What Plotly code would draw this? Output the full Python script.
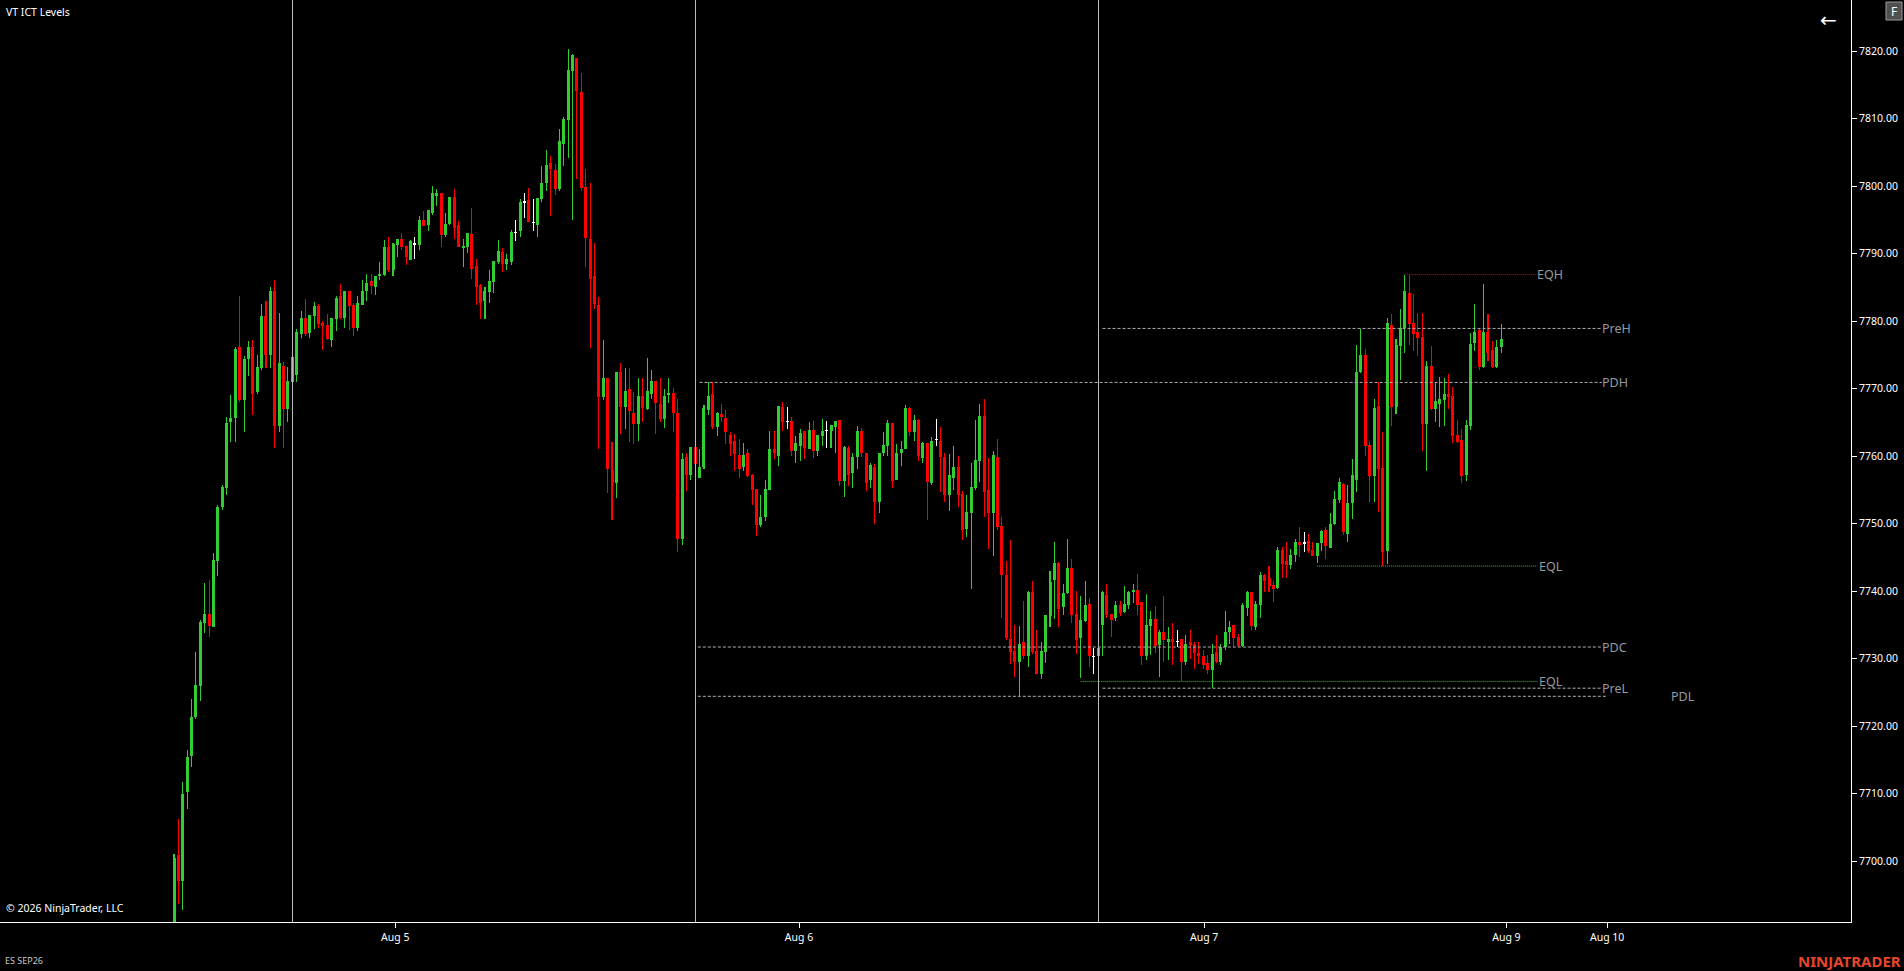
import numpy as np
import plotly.graph_objects as go

# ---------------- DATA (15-minute ES SEP26 bars, index 0..303) ----------------
opens = [
    7691.0, 7700.9, 7697.1, 7710.2, 7715.6, 7721.4, 7726.0, 7735.2, 7736.6, 7734.6,
    7744.5, 7752.4, 7755.3, 7765.1, 7765.6, 7776.1, 7768.3, 7774.3, 7776.1, 7769.5,
    7773.0, 7780.8, 7775.0, 7784.4, 7764.4, 7773.3, 7766.9, 7771.0, 7772.0, 7778.1,
    7780.4, 7778.2, 7780.7, 7782.2, 7779.7, 7779.4, 7777.2, 7780.3, 7783.7, 7780.4,
    7784.4, 7782.4, 7779.0, 7782.3, 7784.5, 7785.9, 7785.1, 7786.6, 7786.8, 7790.9,
    7787.6, 7791.3, 7792.1, 7791.1, 7789.1, 7791.4, 7791.3, 7795.0, 7794.2, 7796.0,
    7798.5, 7799.0, 7792.7, 7794.4, 7798.4, 7794.2, 7790.9, 7790.9, 7792.9, 7788.2,
    7785.3, 7782.9, 7784.3, 7785.8, 7788.8, 7790.2, 7788.4, 7788.7, 7793.1, 7793.3,
    7797.6, 7797.9, 7794.6, 7794.2, 7798.1, 7800.5, 7803.4, 7802.4, 7799.5, 7806.2,
    7809.8, 7817.0, 7818.9, 7813.9, 7799.9, 7792.1, 7786.7, 7782.4, 7768.8, 7771.6,
    7757.9, 7756.0, 7772.4, 7767.3, 7769.9, 7766.4, 7764.7, 7768.9, 7767.0, 7769.2,
    7771.1, 7767.7, 7765.5, 7769.0, 7769.3, 7766.3, 7747.7, 7759.8, 7757.2, 7761.3,
    7756.8, 7758.3, 7766.8, 7769.2, 7764.3, 7766.2, 7765.7, 7763.1, 7762.2, 7760.1,
    7758.3, 7760.4, 7757.2, 7755.1, 7749.8, 7750.9, 7754.9, 7761.1, 7760.0, 7767.2,
    7765.1, 7765.2, 7760.8, 7761.5, 7763.7, 7761.1, 7763.9, 7760.7, 7762.9, 7763.8,
    7763.7, 7764.3, 7765.3, 7756.3, 7761.2, 7757.5, 7759.8, 7763.7, 7760.4, 7756.4,
    7758.3, 7753.2, 7760.5, 7761.5, 7764.9, 7756.4, 7760.5, 7761.0, 7767.1, 7763.5,
    7765.3, 7759.7, 7761.9, 7756.0, 7762.4, 7762.2, 7759.9, 7754.2, 7756.8, 7758.4,
    7754.4, 7749.2, 7751.6, 7755.2, 7759.3, 7766.0, 7755.0, 7751.6, 7759.9, 7749.6,
    7742.4, 7732.9, 7731.1, 7729.5, 7732.4, 7730.3, 7739.8, 7731.1, 7727.7, 7731.0,
    7736.3, 7741.6, 7744.2, 7737.6, 7739.7, 7743.4, 7736.6, 7733.1, 7735.6, 7738.1,
    7730.3, 7730.3, 7735.0, 7739.4, 7736.6, 7736.0, 7737.9, 7736.9, 7737.9, 7739.8,
    7740.2, 7738.4, 7730.3, 7734.8, 7735.8, 7732.0, 7734.0, 7732.5, 7732.9, 7732.5,
    7732.9, 7729.5, 7732.5, 7732.1, 7730.8, 7730.4, 7729.4, 7728.3, 7731.0, 7729.5,
    7731.7, 7733.9, 7734.9, 7733.2, 7731.8, 7737.5, 7739.9, 7734.6, 7737.9, 7742.4,
    7741.9, 7740.9, 7740.4, 7746.1, 7744.4, 7743.8, 7745.4, 7747.2, 7747.1, 7747.4,
    7746.1, 7745.2, 7747.1, 7749.1, 7746.3, 7749.9, 7753.5, 7755.8, 7748.5, 7753.1,
    7756.5, 7772.4, 7774.9, 7761.6, 7757.0, 7767.4, 7758.2, 7745.9, 7779.4, 7767.3,
    7776.3, 7778.9, 7784.2, 7779.7, 7778.3, 7777.6, 7764.7, 7773.3, 7767.0, 7767.7,
    7768.3, 7769.2, 7768.9, 7763.1, 7762.4, 7757.2, 7764.5, 7776.8, 7778.7, 7773.2,
    7778.3, 7775.7, 7773.2, 7776.1,
]
highs = [
    7701.0, 7706.2, 7711.7, 7716.4, 7724.0, 7731.0, 7735.7, 7741.2, 7741.7, 7745.7,
    7752.8, 7755.7, 7765.8, 7769.0, 7776.1, 7783.7, 7774.8, 7777.0, 7777.2, 7775.0,
    7782.5, 7783.0, 7785.1, 7786.1, 7781.2, 7774.0, 7773.2, 7775.5, 7778.8, 7781.5,
    7783.3, 7780.9, 7782.8, 7782.5, 7780.0, 7781.1, 7780.4, 7783.7, 7785.5, 7784.4,
    7784.4, 7782.6, 7783.7, 7786.1, 7787.0, 7787.0, 7786.6, 7788.7, 7792.0, 7792.4,
    7791.5, 7792.1, 7793.0, 7791.1, 7792.0, 7792.5, 7795.5, 7796.3, 7796.4, 7800.0,
    7799.5, 7799.0, 7796.0, 7798.3, 7799.6, 7794.8, 7792.2, 7793.1, 7796.8, 7789.2,
    7785.5, 7785.1, 7787.6, 7788.9, 7792.0, 7790.8, 7790.0, 7793.5, 7795.0, 7798.1,
    7798.9, 7799.7, 7798.1, 7798.2, 7802.9, 7805.3, 7804.4, 7803.3, 7808.4, 7810.2,
    7820.3, 7819.6, 7818.9, 7816.8, 7802.5, 7800.4, 7791.5, 7783.5, 7777.2, 7771.6,
    7762.1, 7772.4, 7773.8, 7773.0, 7773.0, 7769.5, 7771.6, 7771.6, 7774.5, 7772.7,
    7771.1, 7771.5, 7770.0, 7771.5, 7770.1, 7768.4, 7760.4, 7760.4, 7761.3, 7761.8,
    7761.0, 7767.6, 7770.9, 7770.9, 7766.5, 7767.7, 7766.8, 7763.6, 7763.3, 7762.5,
    7762.0, 7761.1, 7757.4, 7755.1, 7754.2, 7756.4, 7763.7, 7763.7, 7767.4, 7768.0,
    7767.3, 7765.8, 7763.0, 7764.0, 7763.7, 7765.1, 7765.2, 7763.1, 7765.5, 7765.2,
    7764.6, 7765.2, 7765.3, 7761.5, 7761.5, 7760.4, 7764.4, 7764.2, 7760.4, 7758.9,
    7758.8, 7760.5, 7763.5, 7765.4, 7764.9, 7761.8, 7762.2, 7767.6, 7767.3, 7766.1,
    7765.5, 7762.1, 7761.9, 7762.8, 7765.5, 7764.3, 7760.4, 7760.3, 7761.5, 7760.0,
    7754.8, 7754.2, 7758.9, 7765.4, 7767.7, 7768.4, 7759.7, 7760.8, 7762.5, 7750.9,
    7744.4, 7747.6, 7735.0, 7734.8, 7738.5, 7740.0, 7741.5, 7734.2, 7732.5, 7736.4,
    7742.9, 7747.2, 7744.3, 7741.1, 7747.7, 7744.7, 7740.0, 7739.3, 7741.5, 7738.9,
    7731.6, 7732.7, 7740.0, 7741.0, 7736.6, 7738.5, 7738.5, 7740.7, 7740.0, 7741.1,
    7742.5, 7738.4, 7739.5, 7737.0, 7737.8, 7734.2, 7739.3, 7734.6, 7735.3, 7734.2,
    7732.9, 7733.5, 7734.2, 7732.5, 7732.5, 7731.3, 7730.5, 7732.2, 7733.5, 7732.2,
    7737.1, 7735.5, 7734.9, 7733.7, 7738.2, 7740.0, 7739.9, 7738.5, 7742.8, 7742.5,
    7743.7, 7741.5, 7746.5, 7746.5, 7747.2, 7746.2, 7747.7, 7749.5, 7748.7, 7748.4,
    7747.3, 7747.1, 7749.0, 7749.5, 7751.6, 7754.8, 7756.7, 7756.0, 7755.7, 7759.5,
    7776.4, 7778.8, 7775.9, 7762.2, 7768.4, 7770.9, 7763.5, 7780.4, 7781.1, 7777.4,
    7781.8, 7786.8, 7786.8, 7784.0, 7781.2, 7781.2, 7774.1, 7776.3, 7770.9, 7771.7,
    7771.6, 7772.2, 7770.2, 7765.4, 7764.0, 7765.4, 7778.2, 7782.5, 7778.8, 7785.5,
    7781.1, 7777.0, 7777.2, 7779.5,
]
lows = [
    7690.5, 7693.6, 7692.8, 7707.7, 7713.9, 7721.1, 7723.7, 7733.8, 7733.2, 7734.6,
    7742.2, 7752.0, 7754.2, 7762.1, 7762.1, 7768.0, 7763.5, 7771.8, 7766.1, 7769.2,
    7772.8, 7773.0, 7773.0, 7761.2, 7763.5, 7761.2, 7765.0, 7770.5, 7771.0, 7777.5,
    7777.8, 7777.5, 7778.8, 7779.0, 7775.7, 7777.2, 7776.1, 7778.5, 7780.3, 7779.0,
    7778.6, 7777.8, 7778.5, 7782.3, 7783.0, 7784.0, 7783.8, 7786.1, 7786.6, 7787.3,
    7786.6, 7789.5, 7790.5, 7788.3, 7789.0, 7789.2, 7790.5, 7794.1, 7793.3, 7795.7,
    7797.0, 7791.0, 7792.5, 7794.2, 7792.2, 7790.9, 7788.0, 7790.1, 7786.2, 7782.3,
    7780.3, 7780.3, 7782.6, 7784.1, 7788.4, 7787.3, 7787.6, 7788.3, 7791.8, 7792.5,
    7795.3, 7794.6, 7793.4, 7792.5, 7797.6, 7799.3, 7795.6, 7798.6, 7799.3, 7803.0,
    7804.1, 7794.9, 7801.0, 7799.3, 7788.0, 7776.0, 7781.8, 7761.0, 7768.3, 7754.5,
    7750.5, 7753.8, 7763.3, 7764.0, 7762.1, 7761.8, 7762.2, 7765.1, 7766.8, 7768.4,
    7763.2, 7765.1, 7764.1, 7767.8, 7763.6, 7745.8, 7746.8, 7754.8, 7756.4, 7757.9,
    7756.8, 7758.1, 7766.1, 7764.0, 7762.9, 7765.1, 7761.8, 7760.0, 7757.8, 7756.8,
    7757.8, 7756.9, 7752.7, 7748.1, 7749.5, 7750.3, 7754.9, 7759.5, 7758.5, 7763.7,
    7764.0, 7760.0, 7759.0, 7759.3, 7759.6, 7761.0, 7759.7, 7760.0, 7761.5, 7761.2,
    7761.2, 7760.5, 7755.6, 7754.0, 7755.6, 7755.3, 7758.1, 7759.8, 7754.8, 7755.3,
    7750.0, 7751.6, 7760.0, 7760.0, 7755.3, 7756.4, 7758.5, 7761.0, 7763.0, 7762.2,
    7759.3, 7758.9, 7750.5, 7755.7, 7761.5, 7754.6, 7753.2, 7751.8, 7755.0, 7752.5,
    7747.6, 7748.0, 7740.3, 7755.0, 7756.1, 7750.9, 7746.2, 7745.2, 7749.0, 7736.0,
    7732.7, 7729.2, 7727.3, 7724.4, 7729.9, 7728.8, 7730.6, 7727.7, 7726.9, 7729.3,
    7734.6, 7735.8, 7734.6, 7736.4, 7739.6, 7735.3, 7730.6, 7727.1, 7735.4, 7728.8,
    7727.7, 7729.9, 7730.3, 7736.0, 7733.2, 7735.6, 7736.3, 7736.8, 7737.3, 7738.2,
    7736.4, 7729.0, 7729.8, 7730.5, 7730.8, 7727.3, 7729.5, 7729.8, 7729.0, 7731.7,
    7726.6, 7729.0, 7730.0, 7728.5, 7729.2, 7728.5, 7727.7, 7725.6, 7729.4, 7729.0,
    7731.3, 7732.2, 7731.7, 7731.7, 7731.7, 7736.3, 7734.2, 7734.2, 7736.0, 7739.8,
    7739.8, 7738.3, 7740.3, 7741.9, 7741.9, 7743.3, 7744.3, 7745.1, 7745.8, 7745.6,
    7745.2, 7744.1, 7746.0, 7744.8, 7746.3, 7749.8, 7753.1, 7748.3, 7747.3, 7750.6,
    7754.6, 7772.3, 7760.0, 7753.2, 7753.2, 7751.7, 7743.7, 7744.0, 7764.5, 7766.2,
    7771.3, 7775.3, 7776.4, 7775.6, 7774.8, 7760.8, 7757.8, 7766.8, 7765.1, 7764.3,
    7764.5, 7767.0, 7761.9, 7761.9, 7756.0, 7756.3, 7763.8, 7775.6, 7772.8, 7773.1,
    7774.1, 7773.1, 7773.1, 7775.3,
]
closes = [
    7700.5, 7697.1, 7710.0, 7715.4, 7721.3, 7726.1, 7735.4, 7736.6, 7734.8, 7744.6,
    7752.4, 7755.4, 7764.9, 7765.6, 7775.9, 7768.3, 7774.4, 7776.1, 7769.2, 7773.2,
    7780.8, 7775.0, 7784.4, 7764.4, 7773.8, 7767.0, 7771.1, 7774.6, 7778.3, 7780.4,
    7778.1, 7780.9, 7782.2, 7779.6, 7779.3, 7777.4, 7780.4, 7783.4, 7780.4, 7784.4,
    7782.2, 7779.0, 7782.6, 7784.5, 7785.6, 7785.2, 7786.6, 7787.0, 7790.9, 7787.5,
    7791.4, 7792.1, 7790.9, 7789.5, 7791.8, 7791.4, 7795.0, 7794.1, 7796.4, 7799.0,
    7799.0, 7792.7, 7794.4, 7798.3, 7793.8, 7790.9, 7791.1, 7793.1, 7787.7, 7785.1,
    7782.6, 7784.4, 7785.9, 7788.9, 7790.4, 7788.4, 7789.2, 7793.2, 7793.1, 7797.6,
    7797.6, 7794.6, 7794.6, 7798.2, 7800.5, 7803.1, 7802.5, 7799.5, 7806.7, 7809.9,
    7817.2, 7819.4, 7814.1, 7799.7, 7792.3, 7786.2, 7782.5, 7768.8, 7771.6, 7758.1,
    7756.0, 7772.4, 7767.3, 7769.6, 7766.6, 7764.7, 7768.9, 7767.1, 7769.6, 7771.1,
    7767.8, 7765.5, 7768.9, 7769.4, 7766.3, 7747.7, 7759.6, 7757.2, 7761.3, 7758.8,
    7758.3, 7767.1, 7768.9, 7764.3, 7766.3, 7765.8, 7763.6, 7761.8, 7760.3, 7758.1,
    7760.1, 7757.0, 7755.0, 7749.8, 7750.9, 7755.1, 7761.1, 7760.4, 7767.4, 7765.1,
    7765.1, 7760.8, 7761.9, 7763.4, 7761.2, 7763.9, 7760.7, 7763.1, 7763.7, 7763.8,
    7764.6, 7765.2, 7756.3, 7761.4, 7757.2, 7759.8, 7763.7, 7760.4, 7756.0, 7758.6,
    7753.2, 7760.5, 7761.6, 7764.9, 7756.3, 7760.4, 7761.1, 7767.1, 7763.5, 7765.3,
    7760.0, 7761.9, 7756.1, 7762.2, 7762.4, 7759.8, 7754.2, 7757.2, 7758.4, 7754.2,
    7749.0, 7751.7, 7755.4, 7759.4, 7766.0, 7754.6, 7751.6, 7760.1, 7749.5, 7742.3,
    7733.0, 7731.0, 7729.5, 7732.1, 7730.3, 7739.8, 7731.0, 7727.7, 7731.1, 7736.4,
    7741.4, 7744.1, 7737.3, 7739.7, 7743.4, 7736.5, 7732.8, 7735.7, 7737.9, 7730.3,
    7730.3, 7731.6, 7739.8, 7736.4, 7735.7, 7737.9, 7736.8, 7738.1, 7739.9, 7740.2,
    7737.9, 7730.3, 7734.9, 7735.8, 7731.8, 7734.0, 7732.7, 7732.9, 7732.5, 7732.5,
    7729.5, 7732.1, 7732.0, 7730.8, 7730.3, 7729.0, 7728.3, 7730.7, 7729.5, 7731.7,
    7733.9, 7734.7, 7733.1, 7731.8, 7737.9, 7739.9, 7734.8, 7738.1, 7742.4, 7741.5,
    7740.7, 7740.3, 7746.1, 7744.0, 7743.8, 7745.3, 7747.2, 7746.8, 7747.1, 7745.9,
    7745.2, 7747.1, 7748.9, 7746.6, 7750.0, 7753.6, 7756.1, 7748.8, 7753.1, 7757.2,
    7772.4, 7774.9, 7761.5, 7757.0, 7767.1, 7758.1, 7745.8, 7779.7, 7767.3, 7776.4,
    7778.9, 7784.4, 7779.6, 7778.1, 7777.5, 7764.7, 7773.3, 7767.0, 7768.1, 7768.4,
    7769.2, 7768.8, 7763.0, 7762.1, 7757.1, 7764.6, 7776.6, 7778.3, 7773.2, 7778.3,
    7775.3, 7773.2, 7776.1, 7777.3,
]

x_tick_vals = [50.5, 142.7, 235.2, 304.2, 327.2]
x_tick_text = ["Aug 5", "Aug 6", "Aug 7", "Aug 9", "Aug 10"]
y_tick_vals = [7700, 7710, 7720, 7730, 7740, 7750, 7760, 7770, 7780, 7790, 7800, 7810, 7820]

session_breaks = [27, 119, 211]

level_names = ["EQH", "PreH", "PDH", "EQL", "PDC", "EQL", "PreL", "PDL"]
level_prices = [7786.9, 7778.9, 7770.9, 7743.7, 7731.7, 7726.6, 7725.6, 7724.4]
level_start = [281, 212, 120, 261, 119.6, 207, 212, 119.6]
level_end = [311.3, 326.0, 326.0, 311.3, 326.0, 311.3, 326.0, 327.3]

# ---------------- STYLE ----------------
W, H = 1904, 971
PLOT_R, PLOT_B = 1851, 922          # plot area right / bottom edge in pixels
X_RANGE = [-39.73, 382.88]
Y_RANGE = [7690.963, 7827.556]
FONT = "Noto Sans, Open Sans, sans-serif"
GREEN, RED, DOJI = "#32cd32", "#ff0000", "#ffffff"
BODY_W, WICK_W = 0.685, 0.01

level_colors = ["#e00000", "#b0b0b0", "#b0b0b0", "#32cd32", "#b0b0b0", "#32cd32", "#b0b0b0", "#b0b0b0"]
level_dash = ["1px,1px", "3px,2px", "3px,2px", "1px,1px", "3px,2px", "1px,1px", "3px,2px", "3px,2px"]
label_offset = [0, 0, 0, 0.3, 0, 0.3, 0, 14.4]


def px(xp):
    return xp / PLOT_R


def py(yp):
    return 1 - yp / PLOT_B


o = np.array(opens)
h = np.array(highs)
l = np.array(lows)
c = np.array(closes)
idx = np.arange(len(o))

colors = np.where(c > o, GREEN, np.where(c < o, RED, DOJI))
body_base = np.minimum(o, c)
body_h = np.maximum(np.abs(c - o), 0.05)

fig = go.Figure()

# wicks
fig.add_trace(go.Bar(
    x=idx, y=h - l, base=l, width=WICK_W,
    marker=dict(color=list(colors), line=dict(width=0)),
    hoverinfo="skip", showlegend=False,
))
# bodies
fig.add_trace(go.Bar(
    x=idx, y=body_h, base=body_base, width=BODY_W,
    marker=dict(color=list(colors), line=dict(width=0)),
    hoverinfo="skip", showlegend=False,
))
# session break lines
fig.add_trace(go.Bar(
    x=session_breaks, y=[Y_RANGE[1] - Y_RANGE[0]] * len(session_breaks),
    base=[Y_RANGE[0]] * len(session_breaks), width=WICK_W,
    marker=dict(color="#bcbcbc", line=dict(width=0)),
    hoverinfo="skip", showlegend=False,
))

# level lines + labels
annotations = []
for name, price, x0, x1, col, dash, off in zip(level_names, level_prices, level_start,
                                                level_end, level_colors, level_dash, label_offset):
    fig.add_trace(go.Scatter(
        x=[x0, x1], y=[price, price], mode="lines",
        line=dict(color=col, width=1, dash=dash),
        hoverinfo="skip", showlegend=False,
    ))
    annotations.append(dict(
        x=x1 + off, y=price, xref="x", yref="y", text=name, showarrow=False,
        xanchor="left", yanchor="middle", xshift=-2,
        font=dict(family=FONT, size=12.5, color="#939ba3"),
    ))

annotations += [
    dict(x=px(4), y=py(12), xref="paper", yref="paper", text="VT ICT Levels",
         showarrow=False, xanchor="left", yanchor="middle",
         font=dict(family=FONT, size=10.5, color="#ffffff")),
    dict(x=px(4), y=py(908), xref="paper", yref="paper", text="© 2026 NinjaTrader, LLC",
         showarrow=False, xanchor="left", yanchor="middle",
         font=dict(family=FONT, size=10.5, color="#ffffff")),
    dict(x=px(3), y=py(961), xref="paper", yref="paper", text="ES SEP26",
         showarrow=False, xanchor="left", yanchor="middle",
         font=dict(family=FONT, size=9, color="#c8c8c8")),
    dict(x=px(1903), y=py(961), xref="paper", yref="paper", text="<b>NINJATRADER</b>",
         showarrow=False, xanchor="right", yanchor="middle",
         font=dict(family=FONT, size=15, color="#e8472b")),
    dict(x=px(1828), y=py(20), xref="paper", yref="paper", text="←",
         showarrow=False, xanchor="center", yanchor="middle",
         font=dict(family="DejaVu Sans", size=20, color="#ffffff")),
    dict(x=px(1894), y=py(11), xref="paper", yref="paper", text="F",
         showarrow=False, xanchor="center", yanchor="middle",
         font=dict(family=FONT, size=12, color="#ffffff")),
]

shapes = [
    dict(type="rect", xref="paper", yref="paper",
         x0=px(1886), x1=px(1902), y0=py(2), y1=py(20),
         fillcolor="#505050", line=dict(color="#9a9a9a", width=1)),
]

fig.update_layout(
    width=W, height=H,
    margin=dict(l=0, r=W - PLOT_R, t=0, b=H - PLOT_B, pad=0),
    paper_bgcolor="#000000", plot_bgcolor="#000000",
    barmode="overlay", bargap=0, bargroupgap=0,
    hovermode=False, showlegend=False,
    annotations=annotations, shapes=shapes,
    font=dict(family=FONT, color="#ffffff"),
    xaxis=dict(
        range=X_RANGE, showgrid=False, zeroline=False, automargin=False,
        showline=True, linecolor="#ffffff", linewidth=1,
        ticks="outside", ticklen=5, tickcolor="#ffffff", tickwidth=1,
        tickvals=x_tick_vals, ticktext=x_tick_text,
        tickfont=dict(family=FONT, size=10.5, color="#ffffff"),
        fixedrange=True,
    ),
    yaxis=dict(
        range=Y_RANGE, side="right", showgrid=False, zeroline=False, automargin=False,
        showline=True, linecolor="#ffffff", linewidth=1,
        ticks="outside", ticklen=5, tickcolor="#ffffff", tickwidth=1,
        tickvals=y_tick_vals, tickformat=".2f",
        tickfont=dict(family=FONT, size=10.5, color="#ffffff"),
        fixedrange=True,
    ),
)

fig.write_html(
    "out.html",
    config={"displayModeBar": False},
    post_script="document.body.style.margin='0px';document.body.style.overflow='hidden';document.body.style.background='#000';",
)
